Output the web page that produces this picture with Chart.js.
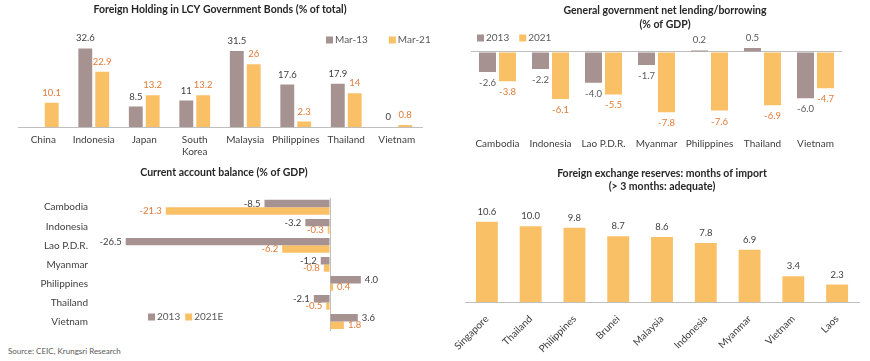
<!DOCTYPE html>
<html>
<head>
<meta charset="utf-8">
<script src="https://cdn.jsdelivr.net/npm/chart.js@4.4.1/dist/chart.umd.min.js"></script>
<style>
  html, body { margin: 0; padding: 0; background: #fff; }
  body { width: 870px; height: 361px; position: relative; overflow: hidden; }
  .panel { position: absolute; }
  #source { position: absolute; left: 8px; top: 346px; font: 8px Lato, sans-serif; color: #595959; }
</style>
</head>
<body>
<div class="panel" style="left:0;top:0;width:435px;height:160px"><canvas id="bondChart"></canvas></div>
<div class="panel" style="left:435px;top:0;width:435px;height:160px"><canvas id="fiscalChart"></canvas></div>
<div class="panel" style="left:0;top:160px;width:448px;height:180px"><canvas id="currentChart"></canvas></div>
<div class="panel" style="left:435px;top:160px;width:435px;height:201px"><canvas id="reserveChart"></canvas></div>
<div id="source">Source: CEIC, Krungsri Research</div>
<script>
const bondCountries = ['China', 'Indonesia', 'Japan', ['South', 'Korea'], 'Malaysia', 'Philippines', 'Thailand', 'Vietnam'];
const bondMar13 = [null, 32.6, 8.5, 11, 31.5, 17.6, 17.9, 0];
const bondMar21 = [10.1, 22.9, 13.2, 13.2, 26, 2.3, 14, 0.8];

const fiscalCountries = ['Cambodia', 'Indonesia', 'Lao P.D.R.', 'Myanmar', 'Philippines', 'Thailand', 'Vietnam'];
const fiscal2013 = [-2.6, -2.2, -4.0, -1.7, 0.2, 0.5, -6.0];
const fiscal2021 = [-3.8, -6.1, -5.5, -7.8, -7.6, -6.9, -4.7];

const currentCountries = ['Cambodia', 'Indonesia', 'Lao P.D.R.', 'Myanmar', 'Philippines', 'Thailand', 'Vietnam'];
const current2013 = [-8.5, -3.2, -26.5, -1.2, 4.0, -2.1, 3.6];
const current2021E = [-21.3, -0.3, -6.2, -0.8, 0.4, -0.5, 1.8];

const reserveCountries = ['Singapore', 'Thailand', 'Philippines', 'Brunei', 'Malaysia', 'Indonesia', 'Myanmar', 'Vietnam', 'Laos'];
const reserveMonths = [10.6, 10.0, 9.8, 8.7, 8.6, 7.8, 6.9, 3.4, 2.3];

const FONT = 'Lato, sans-serif';
const GREY = '#A69290';
const ORANGE = '#FAC066';
const ORANGE_TEXT = '#E07B39';
const TEXT = '#404040';
const AXIS = '#BFBFBF';

Chart.defaults.font.family = FONT;
Chart.defaults.color = TEXT;
Chart.defaults.animation = false;

// value labels drawn next to the end of each bar
const valueLabels = {
  id: 'valueLabels',
  afterDatasetsDraw(chart, args, opts) {
    const ctx = chart.ctx;
    const horizontal = chart.options.indexAxis === 'y';
    ctx.save();
    ctx.font = `${opts.size || 9.5}px ${FONT}`;
    ctx.textBaseline = 'middle';
    chart.data.datasets.forEach((ds, i) => {
      const meta = chart.getDatasetMeta(i);
      meta.data.forEach((bar, j) => {
        const v = ds.data[j];
        if (v === null || v === undefined) return;
        const text = opts.decimals === undefined ? String(v) : v.toFixed(opts.decimals);
        ctx.fillStyle = ds.labelColor || TEXT;
        if (horizontal) {
          ctx.textAlign = v < 0 ? 'right' : 'left';
          ctx.fillText(text, bar.x + (v < 0 ? -4 : 4), bar.y);
        } else {
          ctx.textAlign = 'center';
          ctx.fillText(text, bar.x, bar.y + (v < 0 ? 11 : -10));
        }
      });
    });
    ctx.restore();
  }
};

// small square legend placed inside the canvas
const boxLegend = {
  id: 'boxLegend',
  afterDraw(chart, args, opts) {
    if (opts.x === undefined) return;
    const ctx = chart.ctx;
    ctx.save();
    ctx.font = `10px ${FONT}`;
    ctx.textBaseline = 'middle';
    ctx.textAlign = 'left';
    let x = opts.x;
    chart.data.datasets.forEach(ds => {
      ctx.fillStyle = ds.backgroundColor;
      ctx.fillRect(x, opts.y - 3.5, 7, 7);
      ctx.fillStyle = '#595959';
      ctx.fillText(ds.label, x + 9, opts.y);
      x += 9 + ctx.measureText(ds.label).width + opts.gap;
    });
    ctx.restore();
  }
};

function titleOpts(text, top, bottom, lineHeight) {
  return {
    display: true,
    text,
    color: '#262626',
    font: { size: 10.5, weight: 'bold', family: FONT, lineHeight },
    padding: { top, bottom }
  };
}

new Chart(document.getElementById('bondChart'), {
  type: 'bar',
  data: {
    labels: bondCountries,
    datasets: [
      { label: 'Mar-13', data: bondMar13, backgroundColor: GREY, labelColor: TEXT,
        barPercentage: 0.82, categoryPercentage: 0.67 },
      { label: 'Mar-21', data: bondMar21, backgroundColor: ORANGE, labelColor: ORANGE_TEXT,
        barPercentage: 0.82, categoryPercentage: 0.67 }
    ]
  },
  options: {
    responsive: true,
    maintainAspectRatio: false,
    layout: { padding: { left: 18, right: 13, top: 0, bottom: 0 } },
    scales: {
      x: {
        grid: { display: false, drawTicks: false },
        border: { display: true, color: AXIS },
        ticks: { padding: 7, maxRotation: 0, autoSkip: false, font: { size: 10 } },
        afterFit: s => { s.height = 33; }
      },
      y: { display: false, min: 0, max: 35 }
    },
    plugins: {
      legend: { display: false },
      tooltip: { enabled: false },
      title: titleOpts('Foreign Holding in LCY Government Bonds (% of total)', 3.2, 25.8, 1.3),
      valueLabels: {},
      boxLegend: { x: 326, y: 40, gap: 21 }
    }
  },
  plugins: [valueLabels, boxLegend]
});

new Chart(document.getElementById('fiscalChart'), {
  type: 'bar',
  data: {
    labels: fiscalCountries,
    datasets: [
      { label: '2013', data: fiscal2013, backgroundColor: GREY, labelColor: '#595959',
        barPercentage: 0.85, categoryPercentage: 0.755 },
      { label: '2021', data: fiscal2021, backgroundColor: ORANGE, labelColor: ORANGE_TEXT,
        barPercentage: 0.85, categoryPercentage: 0.755 }
    ]
  },
  options: {
    responsive: true,
    maintainAspectRatio: false,
    layout: { padding: { left: 36, right: 11, top: 0, bottom: 8.6 } },
    scales: {
      x: {
        grid: { display: false, drawTicks: false },
        border: { display: false },
        ticks: { padding: 16.3, maxRotation: 0, autoSkip: false, font: { size: 10 } },
        afterFit: s => { s.height = 30; }
      },
      y: {
        position: 'right',
        min: -9,
        max: 1,
        ticks: { display: false, stepSize: 1 },
        border: { display: false },
        grid: {
          drawTicks: false,
          color: ctx => (ctx.tick && ctx.tick.value === 0 ? AXIS : 'rgba(0,0,0,0)')
        },
        afterFit: s => { s.width = 17; }
      }
    },
    plugins: {
      legend: { display: false },
      tooltip: { enabled: false },
      title: titleOpts(['General government net lending/borrowing', '(% of GDP)'], 4.2, 12.7, 1.3),
      valueLabels: { decimals: 1 },
      boxLegend: { x: 42, y: 38, gap: 10 }
    }
  },
  plugins: [valueLabels, boxLegend]
});

new Chart(document.getElementById('currentChart'), {
  type: 'bar',
  data: {
    labels: currentCountries,
    datasets: [
      { label: '2013', data: current2013, backgroundColor: GREY, labelColor: TEXT,
        barPercentage: 1, categoryPercentage: 0.78 },
      { label: '2021E', data: current2021E, backgroundColor: ORANGE, labelColor: ORANGE_TEXT,
        barPercentage: 1, categoryPercentage: 0.78 }
    ]
  },
  options: {
    indexAxis: 'y',
    responsive: true,
    maintainAspectRatio: false,
    layout: { padding: { left: 0, right: 0, top: 0, bottom: 8.4 } },
    scales: {
      x: {
        min: -31,
        max: 15.3,
        ticks: { display: false, stepSize: 1 },
        border: { display: false },
        grid: {
          drawTicks: false,
          color: ctx => (ctx.tick && ctx.tick.value === 0 ? AXIS : 'rgba(0,0,0,0)')
        },
        afterFit: s => { s.height = 0; }
      },
      y: {
        grid: { display: false, drawTicks: false },
        border: { display: false },
        ticks: { padding: 3, autoSkip: false, font: { size: 10 } },
        afterFit: s => { s.width = 91; }
      }
    },
    plugins: {
      legend: { display: false },
      tooltip: { enabled: false },
      title: titleOpts('Current account balance (% of GDP)', 6.2, 17.9, 1.3),
      valueLabels: { decimals: 1 },
      boxLegend: { x: 148, y: 157, gap: 5 }
    }
  },
  plugins: [valueLabels, boxLegend]
});

new Chart(document.getElementById('reserveChart'), {
  type: 'bar',
  data: {
    labels: reserveCountries,
    datasets: [
      { label: 'Months of import', data: reserveMonths, backgroundColor: ORANGE, labelColor: TEXT,
        barPercentage: 0.5, categoryPercentage: 1 }
    ]
  },
  options: {
    responsive: true,
    maintainAspectRatio: false,
    layout: { padding: { left: 30, right: 11, top: 0, bottom: 0 } },
    scales: {
      x: {
        grid: { display: false, drawTicks: false },
        border: { display: true, color: AXIS },
        ticks: { padding: 11, minRotation: 45, maxRotation: 45, autoSkip: false, font: { size: 10 } },
        afterFit: s => { s.height = 59; }
      },
      y: { display: false, min: 0, max: 12 }
    },
    plugins: {
      legend: { display: false },
      tooltip: { enabled: false },
      title: titleOpts(['Foreign exchange reserves: months of import', '(> 3 months: adequate)'], 7.7, 18.3, 1.2),
      valueLabels: { decimals: 1 }
    }
  },
  plugins: [valueLabels]
});
</script>
</body>
</html>
